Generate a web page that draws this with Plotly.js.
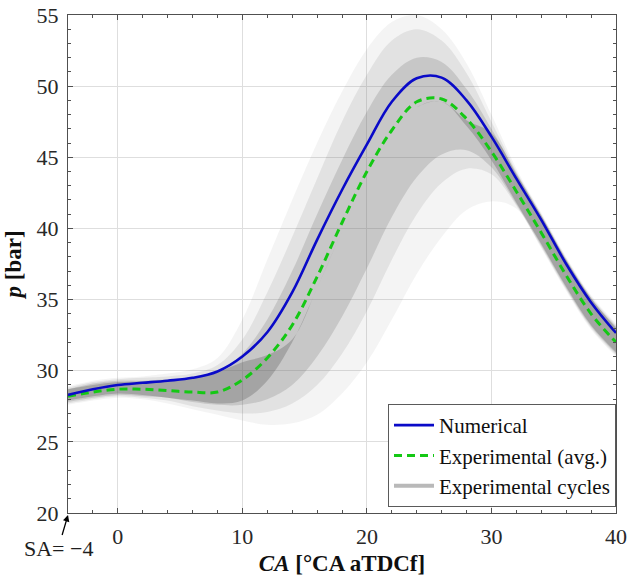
<!DOCTYPE html>
<html>
<head>
<meta charset="utf-8">
<script src="https://cdn.plot.ly/plotly-3.0.1.min.js"></script>
<style>html,body{margin:0;padding:0;background:#fff;}#chart{width:630px;height:583px;}</style>
</head>
<body>
<div id="chart"></div>
<script>
// Crank angle grid [°CA aTDCf]
const ca = [-4, -2, 0, 2, 4, 6, 8, 10, 12, 14, 16, 18, 20, 22, 24, 26, 28, 30, 32, 34, 36, 38, 40];
// Numerical pressure [bar]
const pNumerical = [28.3, 28.7, 29.0, 29.15, 29.3, 29.5, 29.95, 31.0, 32.7, 35.5, 39.2, 42.7, 45.9, 48.9, 50.55, 50.6, 49.0, 46.45, 43.5, 40.6, 37.5, 34.8, 32.65];
// Experimental average pressure [bar]
const pExpAvg = [28.2, 28.5, 28.7, 28.7, 28.6, 28.5, 28.5, 29.35, 30.9, 33.2, 36.6, 40.4, 44.0, 46.9, 48.9, 49.1, 47.7, 45.4, 42.6, 39.7, 36.7, 34.0, 32.0];
// Experimental cycles spread, read from the cloud of cycle traces
// outer envelope (all cycles)
const cyclesAllLo = [27.6, 27.9, 28.1, 28.0, 27.7, 27.3, 26.9, 26.5, 26.2, 26.3, 26.9, 28.4, 30.6, 33.6, 36.8, 39.4, 41.3, 41.9, 41.4, 38.6, 35.6, 32.9, 31.0];
const cyclesAllHi = [28.9, 29.3, 29.5, 29.6, 29.8, 30.1, 30.9, 33.6, 37.8, 42.0, 46.0, 49.6, 52.6, 54.5, 55.0, 54.0, 51.6, 48.0, 44.2, 41.1, 38.0, 35.3, 33.3];
// ~90 % of cycles
const cycles90Lo = [27.7, 28.0, 28.2, 28.1, 27.9, 27.5, 27.2, 27.0, 27.1, 27.7, 29.0, 31.2, 34.2, 37.8, 41.0, 43.2, 44.2, 43.8, 41.6, 38.7, 35.7, 33.0, 31.1];
const cycles90Hi = [28.8, 29.2, 29.4, 29.5, 29.6, 29.8, 30.4, 32.2, 35.5, 39.4, 43.5, 47.5, 50.8, 53.2, 54.0, 53.2, 50.9, 47.5, 44.0, 41.0, 37.9, 35.2, 33.2];
// ~70 % of cycles
const cycles70Lo = [27.8, 28.1, 28.3, 28.2, 28.1, 27.8, 27.6, 27.6, 28.0, 29.0, 31.0, 33.8, 37.2, 40.8, 43.6, 45.2, 45.5, 44.3, 41.7, 38.8, 35.8, 33.1, 31.2];
const cycles70Hi = [28.7, 29.1, 29.3, 29.3, 29.4, 29.5, 29.9, 31.2, 33.6, 37.0, 41.0, 44.8, 48.2, 50.8, 52.0, 51.7, 49.8, 47.0, 43.9, 40.9, 37.8, 35.1, 33.1];
// densely packed cycles (compression / expansion strokes)
const cyclesDenseLo = [27.9, 28.2, 28.4, 28.3, 28.1, 27.9, 27.7, 27.9, 29.3, 32.0, 35.8, 39.8, 43.5, 46.6, 48.5, 48.9, 47.2, 44.8, 41.8, 38.9, 35.9, 33.2, 31.3];
const cyclesDenseHi = [28.7, 29.0, 29.2, 29.25, 29.35, 29.5, 29.9, 30.6, 31.1, 32.2, 35.8, 39.8, 43.5, 46.6, 48.5, 48.9, 47.6, 46.7, 43.8, 40.9, 37.8, 35.1, 33.0];

const xTicks = [0, 10, 20, 30, 40];
const seriesNames = ["Numerical", "Experimental (avg.)", "Experimental cycles"];

const serif = "'Liberation Serif', 'Times New Roman', serif";

function band(lo, hi, color) {
  return [
    {x: ca, y: lo, type: "scatter", mode: "lines", line: {width: 0, shape: "spline", smoothing: 1}, hoverinfo: "skip", showlegend: false},
    {x: ca, y: hi, type: "scatter", mode: "lines", fill: "tonexty", fillcolor: color, line: {width: 0, shape: "spline", smoothing: 1}, hoverinfo: "skip", showlegend: false}
  ];
}

const traces = [].concat(
  band(cyclesAllLo, cyclesAllHi, "rgba(95,95,95,0.07)"),
  band(cycles90Lo, cycles90Hi, "rgba(95,95,95,0.12)"),
  band(cycles70Lo, cycles70Hi, "rgba(95,95,95,0.20)"),
  band(cyclesDenseLo, cyclesDenseHi, "rgba(95,95,95,0.33)"),
  [
    {x: [null], y: [null], type: "scatter", mode: "lines", name: seriesNames[2], line: {color: "rgb(185,185,185)", width: 4}, legendrank: 3},
    {x: ca, y: pExpAvg, type: "scatter", mode: "lines", name: seriesNames[1], line: {color: "rgb(20,200,20)", width: 3, dash: "8px,5px", shape: "spline", smoothing: 1}, legendrank: 2},
    {x: ca, y: pNumerical, type: "scatter", mode: "lines", name: seriesNames[0], line: {color: "rgb(10,10,200)", width: 2.6, shape: "spline", smoothing: 1}, legendrank: 1}
  ]
);

const layout = {
  width: 630, height: 583,
  margin: {l: 68, r: 14, t: 15, b: 70},
  paper_bgcolor: "#fff", plot_bgcolor: "#fff",
  font: {family: serif, size: 22, color: "rgb(40,40,40)"},
  showlegend: true,
  legend: {
    x: 1, xanchor: "right", y: 0.012, yanchor: "bottom",
    bgcolor: "#fff", bordercolor: "rgb(90,90,90)", borderwidth: 1,
    font: {family: serif, size: 21, color: "rgb(15,15,15)"},
    traceorder: "normal", itemwidth: 40, tracegroupgap: 0
  },
  xaxis: {
    range: [-4, 40], tickmode: "array", tickvals: xTicks,
    ticks: "inside", ticklen: 5, tickcolor: "rgb(80,80,80)",
    showline: true, linecolor: "rgb(80,80,80)", linewidth: 1, mirror: "ticks",
    showgrid: true, gridcolor: "rgb(222,222,222)", gridwidth: 1, zeroline: false,
    ticklabelstandoff: 4,
    minor: {tickmode: "linear", tick0: 0, dtick: 2, ticks: "inside", ticklen: 3, tickcolor: "rgb(80,80,80)", showgrid: false},
    title: {text: "<b><i>CA</i> [°CA aTDCf]</b>", font: {family: serif, size: 23, color: "rgb(15,15,15)"}, standoff: 6}
  },
  yaxis: {
    range: [20, 55], tickmode: "linear", tick0: 20, dtick: 5,
    ticks: "inside", ticklen: 5, tickcolor: "rgb(80,80,80)",
    showline: true, linecolor: "rgb(80,80,80)", linewidth: 1, mirror: "ticks",
    showgrid: true, gridcolor: "rgb(222,222,222)", gridwidth: 1, zeroline: false,
    ticklabelstandoff: 4,
    minor: {tickmode: "linear", tick0: 20, dtick: 1, ticks: "inside", ticklen: 3, tickcolor: "rgb(80,80,80)", showgrid: false},
    title: {text: "<b><i>p</i> [bar]</b>", font: {family: serif, size: 23, color: "rgb(15,15,15)"}, standoff: 8}
  },
  annotations: [{
    xref: "paper", yref: "paper", x: 0, y: -0.004,
    text: "SA= −4", showarrow: true, arrowhead: 2, arrowsize: 1, arrowwidth: 1.3, arrowcolor: "#000",
    ax: -10, ay: 34, font: {family: serif, size: 22, color: "rgb(30,30,30)"}
  }]
};

Plotly.newPlot("chart", traces, layout, {displayModeBar: false, staticPlot: true});
</script>
</body>
</html>
